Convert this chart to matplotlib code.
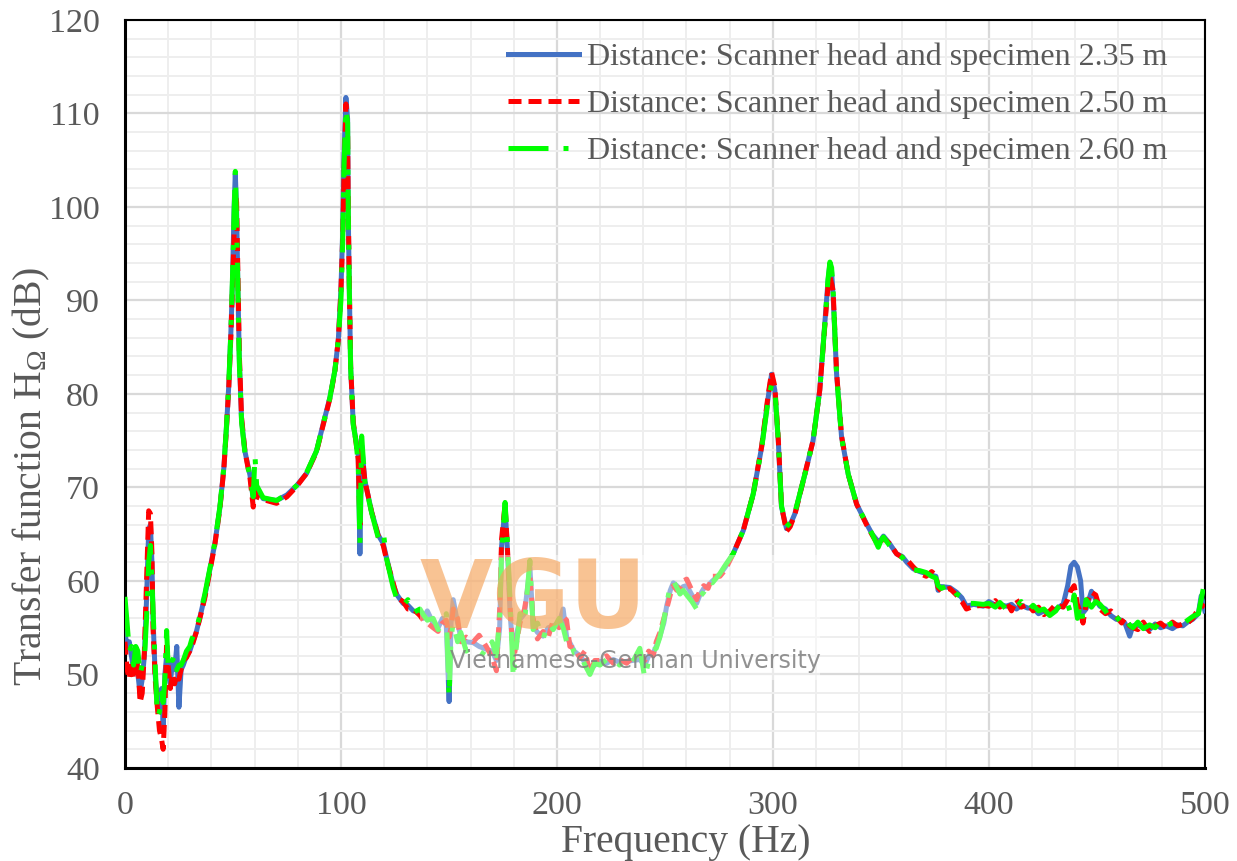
import matplotlib
matplotlib.use('Agg')
import matplotlib.pyplot as plt
from matplotlib.ticker import MultipleLocator
from matplotlib.patches import Rectangle

plt.rcParams['font.family'] = ['Liberation Serif', 'DejaVu Serif']
plt.rcParams['mathtext.fontset'] = 'custom'
plt.rcParams['mathtext.rm'] = 'Liberation Serif'
plt.rcParams['mathtext.it'] = 'Liberation Serif:italic'

# frequency (Hz) shared by the three measurements
freq = [0, 1, 2, 3, 4, 5, 6, 7, 8, 9, 10, 11, 11.8, 12.5, 13, 14, 15, 16, 17, 17.7, 18.5, 19.3,
        20, 21, 22, 23, 24, 25, 26, 27, 28.5, 30, 31, 33, 34.7, 37, 39.3, 41.7, 44, 45.8, 47,
        48.1, 49.1, 49.8, 50.5, 51.1, 51.7, 52.5, 53, 54, 55.6, 57.9, 59.4, 60.2, 61, 64, 70.2,
        75, 79.5, 84.1, 88.7, 91.8, 94.9, 97.2, 98.8, 100, 100.8, 101.4, 102.3, 103.1, 103.4,
        103.9, 104.5, 105.7, 107, 108, 108.8, 109.6, 111.1, 114.2, 117.3, 119.6, 121.1, 124.2,
        126, 128.8, 131, 133.5, 136.6, 138.1, 140, 142.7, 145, 147, 148.8, 150.1, 151, 152,
        154, 155.5, 158, 161.3, 164, 167.3, 170, 172, 173.5, 174.4, 176, 177, 178.3, 179.8,
        181, 182.9, 185, 187.5, 189, 191, 193.6, 196, 198.3, 201, 202.9, 204.5, 206, 208,
        210.6, 213, 215.3, 217.5, 219.9, 223, 226.1, 229, 232.3, 235, 238.4, 240.7, 242.5,
        244.6, 246, 247.7, 249.5, 250.8, 252.5, 253.9, 255.5, 257, 258.5, 260.1, 262.5, 264.7,
        266.2, 268, 270, 272, 275.5, 278, 281.6, 286.3, 290.9, 294.8, 297.8, 299.4, 300.9,
        302.5, 304, 306.3, 308, 310.2, 314.8, 318.6, 321.7, 324, 325.5, 326.4, 327.2, 327.9,
        329.5, 331.8, 334.9, 338.8, 343.4, 346, 348.8, 350, 351.2, 354, 357.3, 360, 362, 365,
        368, 371, 373.5, 375.5, 376.5, 378, 381.9, 385, 387.5, 389.6, 393, 397.4, 400, 403,
        405.1, 408, 410.5, 412.8, 415, 418, 420.5, 423, 425.5, 428.2, 431, 434.4, 436.5, 438,
        439.5, 441, 442.5, 443.6, 445, 447.5, 449.5, 451.4, 454, 456.5, 459, 461.5, 463, 465.2,
        466.7, 469, 471.5, 474.4, 477, 479.5, 482.1, 485, 487.5, 489.8, 492, 494.4, 497, 498.3,
        500]

# transfer function (dB), distance 2.35 m
h_235 = [54.5, 53.0, 53.5, 52.0, 50.5, 52.5, 50.0, 48.0, 49.5, 52.0, 58.0, 65.5, 66.0, 62.0,
         56.0, 50.0, 47.0, 46.0, 48.5, 44.5, 50.0, 52.0, 50.5, 49.0, 51.5, 50.5, 53.0, 46.5,
         50.5, 51.0, 52.0, 52.5, 53.2, 54.5, 56.1, 58.4, 61.2, 64.1, 67.9, 72.1, 76.4, 81.0,
         86.9, 92.0, 99.6, 103.6, 99.6, 89.0, 83.5, 77.2, 73.8, 71.3, 68.8, 70.5, 70.0, 68.8,
         68.6, 69.2, 70.2, 71.5, 73.9, 76.8, 79.6, 82.5, 85.8, 91.1, 97.2, 105.3, 111.7, 109.4,
         99.2, 91.1, 82.9, 76.8, 75.0, 73.5, 62.9, 74.5, 70.7, 67.4, 64.9, 64.0, 62.5, 59.6,
         58.5, 57.6, 57.4, 56.8, 56.6, 56.0, 56.8, 55.5, 55.0, 56.0, 55.2, 47.1, 55.5, 58.0,
         55.5, 54.0, 53.5, 53.4, 53.0, 52.7, 52.5, 51.5, 55.0, 63.7, 68.0, 63.7, 56.6, 52.0,
         54.0, 55.9, 56.5, 61.5, 55.2, 54.5, 54.1, 55.0, 55.2, 55.5, 57.0, 54.0, 53.4, 52.5,
         52.0, 51.3, 50.5, 51.0, 51.4, 51.2, 51.6, 51.3, 51.4, 51.5, 51.6, 51.0, 52.0, 52.3,
         53.0, 54.1, 55.5, 57.3, 59.0, 59.8, 59.5, 59.1, 59.4, 59.5, 58.5, 57.6, 58.5, 59.2,
         59.5, 60.0, 60.7, 61.5, 62.9, 65.4, 69.3, 74.3, 79.6, 82.1, 80.4, 75.0, 67.9, 65.6,
         66.0, 67.2, 71.4, 75.0, 80.4, 87.5, 92.0, 93.9, 93.0, 90.5, 82.1, 75.4, 71.4, 68.2,
         66.1, 65.0, 64.2, 64.4, 64.8, 64.0, 62.9, 62.6, 62.0, 61.3, 61.0, 60.8, 60.6, 60.5,
         59.0, 59.4, 59.3, 58.8, 58.2, 57.3, 57.5, 57.3, 57.8, 57.4, 57.5, 57.3, 57.5, 57.0,
         57.4, 57.1, 57.1, 56.5, 56.8, 56.4, 57.0, 57.5, 59.5, 61.6, 62.0, 61.5, 60.0, 56.6,
         57.0, 58.9, 58.0, 57.3, 57.0, 56.3, 55.9, 55.8, 55.5, 54.1, 55.2, 55.3, 55.0, 54.8,
         55.4, 55.0, 55.2, 54.9, 55.3, 55.2, 55.6, 55.9, 56.5, 58.4, 56.8]

# transfer function (dB), distance 2.50 m
h_250 = [53.5, 50.5, 49.5, 51.5, 49.5, 50.0, 51.5, 47.0, 48.0, 52.5, 60.0, 67.5, 67.2, 63.0,
         55.0, 49.5, 46.5, 44.0, 43.0, 42.0, 46.0, 53.5, 51.0, 48.5, 50.0, 49.0, 50.0, 49.5,
         50.5, 51.5, 51.8, 52.5, 53.0, 54.5, 56.0, 58.2, 61.0, 64.0, 67.8, 72.0, 76.3, 80.8,
         86.5, 91.5, 97.0, 101.5, 100.5, 90.0, 84.0, 77.5, 73.8, 71.0, 67.9, 69.5, 69.0, 68.7,
         68.3, 69.0, 70.1, 71.5, 73.8, 76.7, 79.5, 82.4, 85.8, 91.0, 96.5, 103.0, 111.0, 108.0,
         100.0, 91.5, 83.0, 77.0, 74.8, 73.0, 66.0, 74.0, 70.7, 67.4, 64.8, 63.8, 62.3, 59.8,
         58.2, 57.8, 57.0, 57.0, 56.3, 55.8, 55.5, 55.0, 54.6, 55.5, 55.8, 54.0, 55.0, 57.0,
         56.0, 53.5, 54.0, 53.5, 54.2, 53.0, 51.8, 50.4, 57.0, 64.5, 68.2, 64.0, 57.5, 51.5,
         53.0, 55.5, 57.0, 60.5, 56.0, 53.8, 54.6, 54.0, 55.8, 55.0, 56.2, 55.8, 53.0, 52.8,
         51.8, 52.5, 50.2, 51.5, 51.5, 52.0, 51.2, 51.6, 51.2, 51.8, 52.2, 51.5, 52.5, 52.0,
         53.5, 54.5, 56.0, 57.0, 58.5, 59.5, 59.0, 59.3, 60.0, 60.2, 59.0, 58.0, 59.0, 59.5,
         59.2, 60.5, 60.5, 61.2, 62.9, 65.4, 69.3, 74.4, 79.9, 82.3, 80.8, 75.2, 68.0, 65.3,
         65.8, 67.1, 71.4, 75.0, 80.4, 87.2, 91.5, 92.5, 91.8, 91.0, 82.3, 75.5, 71.4, 68.2,
         66.0, 64.9, 63.8, 64.2, 64.6, 64.0, 62.9, 62.5, 62.3, 61.5, 60.8, 60.5, 61.0, 60.6,
         59.3, 58.9, 59.2, 58.5, 57.8, 57.0, 57.3, 57.4, 57.3, 57.9, 57.2, 57.8, 56.8, 58.0,
         57.2, 57.5, 56.8, 57.2, 56.4, 56.8, 57.5, 57.2, 58.0, 59.0, 59.5, 57.5, 56.5, 55.5,
         57.5, 58.8, 58.5, 57.0, 56.5, 56.8, 56.2, 55.5, 56.0, 55.2, 55.0, 54.8, 55.6, 54.6,
         55.2, 55.5, 55.0, 55.6, 55.2, 55.4, 55.5, 56.0, 57.0, 57.5, 57.2]

# transfer function (dB), distance 2.60 m
h_260 = [58.3, 55.5, 52.5, 53.0, 51.0, 53.0, 52.5, 50.0, 51.0, 51.5, 56.0, 62.0, 63.8, 60.0,
         57.0, 51.0, 45.5, 46.0, 48.0, 47.0, 49.5, 54.7, 51.0, 52.0, 51.5, 52.0, 50.5, 51.0,
         51.0, 51.5, 52.5, 53.0, 53.8, 54.8, 56.3, 58.6, 61.3, 64.2, 68.0, 72.2, 76.5, 81.2,
         87.0, 92.5, 99.0, 103.8, 98.5, 88.5, 83.0, 77.0, 73.6, 71.2, 69.0, 73.4, 70.2, 68.9,
         68.6, 69.3, 70.2, 71.6, 73.9, 76.8, 79.6, 82.5, 85.8, 90.0, 96.0, 104.0, 110.5, 109.0,
         99.5, 91.0, 82.8, 76.7, 74.9, 72.5, 64.0, 75.5, 70.6, 67.3, 64.6, 65.3, 62.4, 59.3,
         58.0, 57.4, 58.0, 56.6, 57.0, 56.4, 55.8, 56.0, 54.8, 55.2, 56.5, 47.6, 54.0, 55.5,
         53.5, 54.5, 52.5, 53.0, 52.5, 52.0, 53.5, 52.0, 56.0, 63.0, 68.4, 64.5, 58.0, 49.6,
         52.5, 56.5, 55.5, 62.2, 54.8, 55.5, 53.8, 55.5, 54.8, 56.0, 55.0, 53.5, 53.8, 52.3,
         52.3, 51.0, 50.0, 51.2, 51.0, 51.6, 51.8, 51.0, 51.7, 51.3, 52.8, 49.6, 51.5, 52.6,
         52.8, 54.0, 55.8, 57.5, 59.5, 60.0, 59.3, 58.6, 59.0, 58.5, 57.8, 57.0, 58.3, 58.8,
         60.0, 59.8, 60.8, 61.7, 62.9, 65.4, 69.3, 74.2, 79.3, 81.0, 80.5, 75.0, 68.0, 65.8,
         66.2, 67.3, 71.4, 75.0, 80.4, 87.3, 92.2, 94.1, 93.5, 91.0, 82.0, 75.3, 71.4, 68.2,
         66.1, 65.0, 63.6, 64.3, 64.7, 63.8, 63.0, 62.5, 61.8, 61.2, 61.1, 60.9, 60.5, 60.3,
         59.5, 59.2, 59.6, 58.6, 58.3, 57.6, 57.6, 57.5, 57.6, 57.2, 57.7, 57.0, 57.3, 57.2,
         57.8, 56.8, 57.4, 56.8, 57.0, 56.3, 56.8, 58.0, 57.5, 56.5, 58.5, 56.0, 57.5, 55.8,
         58.0, 57.2, 57.8, 57.5, 56.8, 55.8, 56.2, 55.5, 56.0, 55.3, 55.0, 55.6, 54.9, 55.3,
         55.0, 55.8, 55.2, 55.5, 55.7, 55.4, 55.8, 56.2, 56.5, 58.0, 60.0]

labels = ['Distance: Scanner head and specimen 2.35 m',
          'Distance: Scanner head and specimen 2.50 m',
          'Distance: Scanner head and specimen 2.60 m']

gray = '#595959'

fig = plt.figure(figsize=(12.37, 8.61), dpi=100)
ax = fig.add_axes([0.101, 0.108, 0.873, 0.869])

ax.plot(freq, h_235, color='#4472C4', lw=3.6, label=labels[0], zorder=3)
ax.plot(freq, h_250, color='#FF0000', lw=3.6, linestyle=(0, (2.6, 1.4)), label=labels[1], zorder=3)
ax.plot(freq, h_260, color='#00FF00', lw=3.6, linestyle=(0, (8, 3, 1, 3)), label=labels[2], zorder=3)

ax.set_xlim(0, 500)
ax.set_ylim(40, 120)
ax.xaxis.set_major_locator(MultipleLocator(100))
ax.xaxis.set_minor_locator(MultipleLocator(20))
ax.yaxis.set_major_locator(MultipleLocator(10))
ax.yaxis.set_minor_locator(MultipleLocator(2))
ax.grid(which='major', color='#d9d9d9', lw=1.6, zorder=0)
ax.grid(which='minor', color='#eeeeee', lw=1.4, zorder=0)
ax.set_axisbelow(True)
ax.tick_params(which='both', length=0)
ax.tick_params(axis='x', labelsize=24.5, labelcolor=gray, pad=16)
ax.tick_params(axis='y', labelsize=24.5, labelcolor=gray, pad=18)
for sp in ax.spines.values():
    sp.set_color('black')
    sp.set_linewidth(1.5)
ax.spines['left'].set_linewidth(2.2)
ax.spines['bottom'].set_linewidth(2.2)

ax.set_xlabel('Frequency (Hz)', fontsize=28.5, color=gray)
ax.xaxis.set_label_coords(0.519, -0.075)
ax.set_ylabel(r'Transfer function H$_{\mathrm{\Omega}}$ (dB)', fontsize=28.5, color=gray)
ax.yaxis.set_label_coords(-0.068, 0.39)

ax.legend(loc='upper right', bbox_to_anchor=(0.977, 0.987), frameon=False, fontsize=23,
          labelcolor=gray, handlelength=2.2, handletextpad=0.25, labelspacing=0.55,
          borderaxespad=0, borderpad=0.4)

# watermark
ax.add_patch(Rectangle((0.273, 0.118), 0.371, 0.167, transform=ax.transAxes,
                       facecolor='white', alpha=0.45, edgecolor='none', zorder=5))
ax.text(0.273, 0.187, 'VGU', transform=ax.transAxes, fontsize=68, fontweight='bold',
        family='DejaVu Sans', color='#F5A35A', alpha=0.65, ha='left', va='baseline', zorder=6)
ax.text(0.301, 0.134, 'Vietnamese-German University', transform=ax.transAxes, fontsize=17,
        family='DejaVu Sans', color='#7f7f7f', alpha=0.85, ha='left', va='baseline', zorder=6)

fig.savefig('out.png', dpi=100)
